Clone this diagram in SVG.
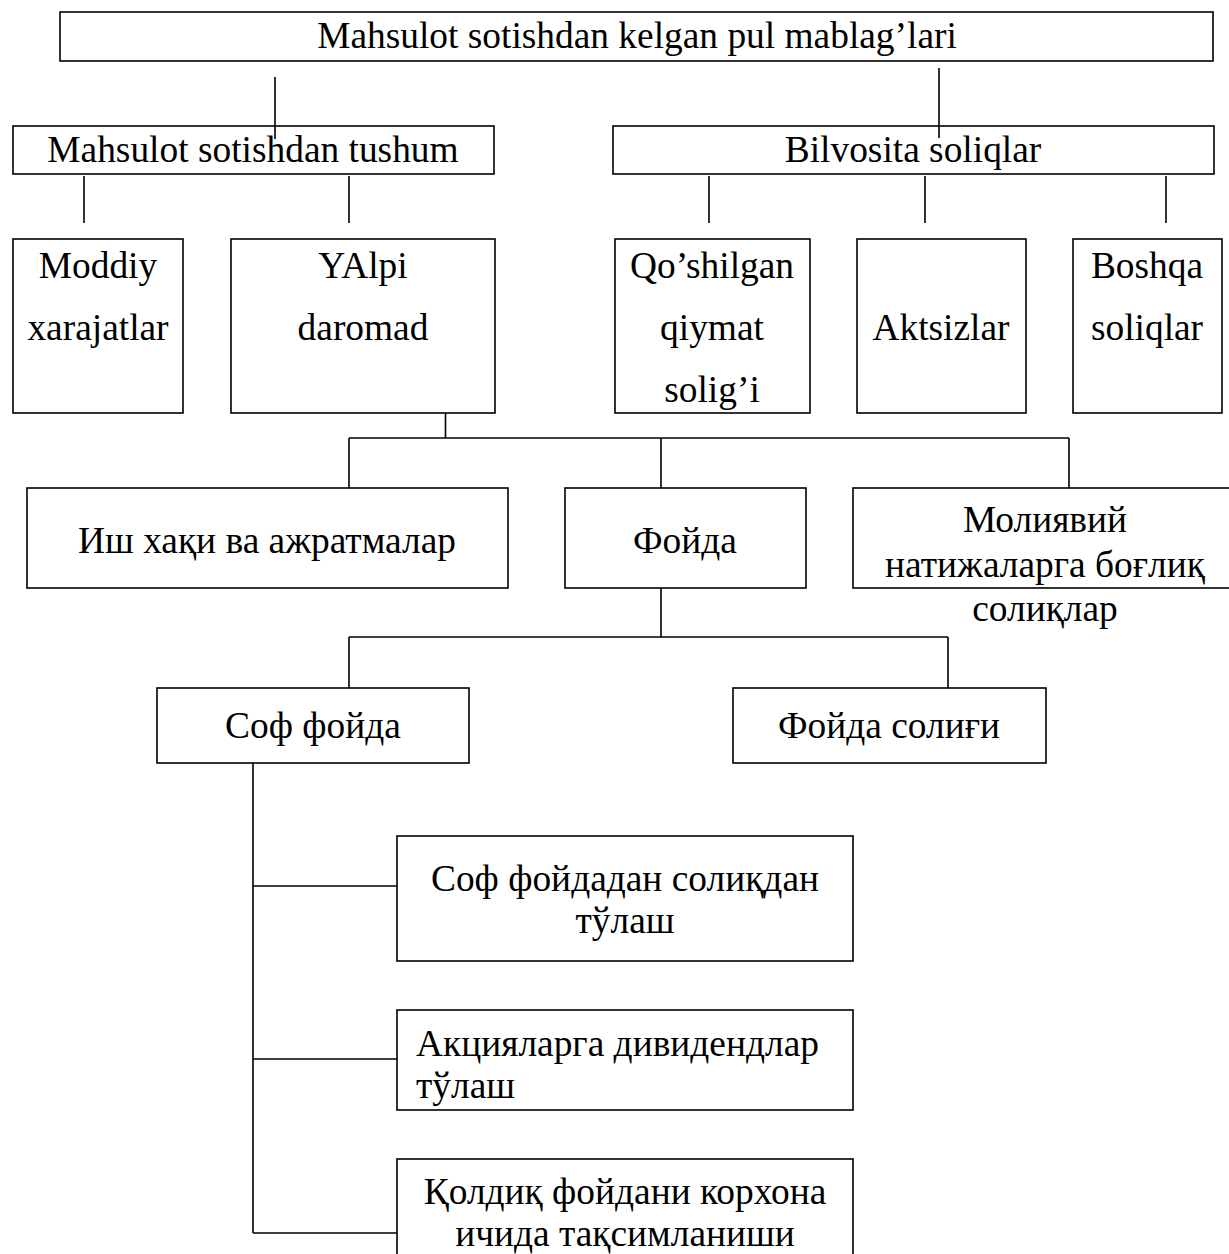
<svg xmlns="http://www.w3.org/2000/svg" width="1229" height="1254" viewBox="0 0 1229 1254">
<style>
.box{fill:none;stroke:#000;stroke-width:1.6}
.t{font-family:"Liberation Serif","Times New Roman",serif;font-size:37.4px;fill:#000;text-anchor:middle}
.ts{text-anchor:start}
.c{fill:none;stroke:#000;stroke-width:1.6}
</style>
<rect width="1229" height="1254" fill="#fff"/>
<g id="connectors" class="c">
<path d="M275 77V139M939 68V138"/>
<path d="M84 176V223M349 176V223M709 176V223M925 176V223M1166 176V223"/>
<path d="M445.5 413V438M349 438H1069M349 438V488M661 438V488M1069 438V488"/>
<path d="M661 588V637M349 637H948M349 637V688M948 637V688"/>
<path d="M253 763V1233M253 886H397M253 1059H397M253 1233H397"/>
</g>
<g id="n-top"><rect class="box" x="60" y="12" width="1153" height="49"/><text class="t" x="637" y="48">Mahsulot sotishdan kelgan pul mablag’lari</text></g>
<g id="n-tushum"><rect class="box" x="13" y="126" width="481" height="48"/><text class="t" x="253" y="162">Mahsulot sotishdan tushum</text></g>
<g id="n-bilvosita"><rect class="box" x="613" y="126" width="601" height="48"/><text class="t" x="913" y="162">Bilvosita soliqlar</text></g>
<g id="n-moddiy"><rect class="box" x="13" y="239" width="170" height="174"/><text class="t" x="98" y="278">Moddiy</text><text class="t" x="98" y="340">xarajatlar</text></g>
<g id="n-yalpi"><rect class="box" x="231" y="239" width="264" height="174"/><text class="t" x="363" y="278">YAlpi</text><text class="t" x="363" y="340">daromad</text></g>
<g id="n-qqs"><rect class="box" x="615" y="239" width="195" height="174"/><text class="t" x="712" y="278">Qo’shilgan</text><text class="t" x="712" y="340">qiymat</text><text class="t" x="712" y="402">solig’i</text></g>
<g id="n-aktsiz"><rect class="box" x="857" y="239" width="169" height="174"/><text class="t" x="941" y="340">Aktsizlar</text></g>
<g id="n-boshqa"><rect class="box" x="1073" y="239" width="149" height="174"/><text class="t" x="1147" y="278">Boshqa</text><text class="t" x="1147" y="340">soliqlar</text></g>
<g id="n-ish"><rect class="box" x="27" y="488" width="481" height="100"/><text class="t" x="267" y="553">Иш хақи ва ажратмалар</text></g>
<g id="n-foyda"><rect class="box" x="565" y="488" width="241" height="100"/><text class="t" x="685" y="553">Фойда</text></g>
<g id="n-moliyaviy"><rect class="box" x="853" y="488" width="390" height="100"/><text class="t" x="1045" y="532">Молиявий</text><text class="t" x="1045" y="577">натижаларга боғлиқ</text><text class="t" x="1045" y="621">солиқлар</text></g>
<g id="n-sof"><rect class="box" x="157" y="688" width="312" height="75"/><text class="t" x="313" y="738">Соф фойда</text></g>
<g id="n-foydasoligi"><rect class="box" x="733" y="688" width="313" height="75"/><text class="t" x="889" y="738">Фойда солиғи</text></g>
<g id="n-soliqdan"><rect class="box" x="397" y="836" width="456" height="125"/><text class="t" x="625" y="891">Соф фойдадан солиқдан</text><text class="t" x="625" y="933">тўлаш</text></g>
<g id="n-aksiya"><rect class="box" x="397" y="1010" width="456" height="100"/><text class="t ts" x="416" y="1056">Акцияларга дивидендлар</text><text class="t ts" x="416" y="1098">тўлаш</text></g>
<g id="n-qoldiq"><rect class="box" x="397" y="1159" width="456" height="110"/><text class="t" x="625" y="1204">Қолдиқ фойдани корхона</text><text class="t" x="625" y="1246">ичида тақсимланиши</text></g>
</svg>
